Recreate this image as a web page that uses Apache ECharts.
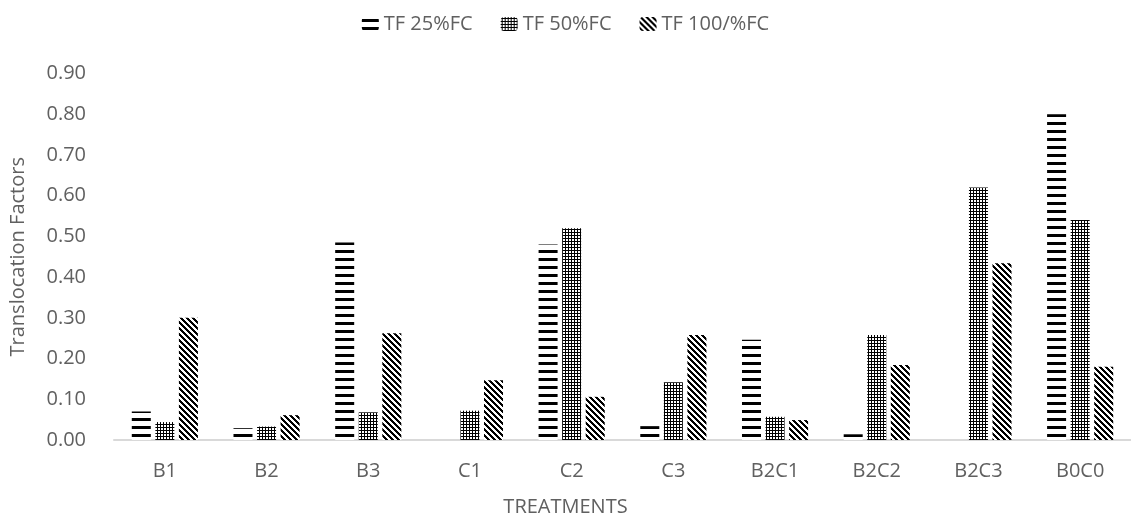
<!DOCTYPE html>
<html>
<head>
<meta charset="utf-8">
<script src="https://cdn.jsdelivr.net/npm/echarts@6/dist/echarts.min.js"></script>
<style>
html,body{margin:0;padding:0;background:#fff;}
#chart{width:1131px;height:518px;}
</style>
</head>
<body>
<div id="chart"></div>
<script>
// ---- data ----
var categories = ['B1','B2','B3','C1','C2','C3','B2C1','B2C2','B2C3','B0C0'];
var seriesNames = ['TF 25%FC','TF 50%FC','TF 100/%FC'];
var tf25  = [0.07, 0.029, 0.485, 0.00, 0.48, 0.034, 0.246, 0.014, 0.00, 0.80];
var tf50  = [0.044, 0.033, 0.068, 0.072, 0.52, 0.142, 0.057, 0.258, 0.62, 0.54];
var tf100 = [0.30, 0.061, 0.262, 0.147, 0.106, 0.258, 0.049, 0.184, 0.434, 0.18];
var yTicks = { min: 0, max: 0.9, interval: 0.1 };

// ---- patterns (styles) ----
function makeTile(w, h, fn) {
  var c = document.createElement('canvas');
  c.width = w; c.height = h;
  var ctx = c.getContext('2d');
  ctx.fillStyle = '#ffffff';
  ctx.fillRect(0, 0, w, h);
  ctx.fillStyle = '#000000';
  for (var y = 0; y < h; y++) {
    for (var x = 0; x < w; x++) {
      if (fn(x, y)) ctx.fillRect(x, y, 1, 1);
    }
  }
  return c;
}
var hStripe = makeTile(8, 8, function (x, y) { return y >= 2 && y <= 4; });
var crossMap = [
  '.X.',
  'XXX',
  '.X.'
];
var crossTile = makeTile(3, 3, function (x, y) { return crossMap[y][x] === 'X'; });
var diagTile = makeTile(6, 6, function (x, y) { return (((x - y) % 6) + 6) % 6 < 3; });

var patterns = [hStripe, crossTile, diagTile];
var dataSets = [tf25, tf50, tf100];

var textColor = '#606060';
var fontFam = '"Open Sans", "Noto Sans", sans-serif';

var chart = echarts.init(document.getElementById('chart'), null, { renderer: 'canvas' });
var series = seriesNames.map(function (name, i) {
  return {
    name: name,
    type: 'bar',
    data: dataSets[i],
    barWidth: 19,
    barGap: '24%',
    itemStyle: { color: { image: patterns[i], repeat: 'repeat' } },
    emphasis: { disabled: true },
    animation: false
  };
});

chart.setOption({
  animation: false,
  backgroundColor: '#ffffff',
  textStyle: { fontFamily: fontFam },
  legend: {
    data: seriesNames,
    top: 9,
    left: 'center',
    itemWidth: 17,
    itemHeight: 14,
    itemGap: 28,
    textStyle: { color: textColor, fontSize: 20, fontFamily: fontFam }
  },
  grid: { left: 109, right: -12, top: 73.5, bottom: 78, containLabel: false },
  xAxis: {
    type: 'category',
    data: categories,
    axisLine: { show: true, lineStyle: { color: '#d9d9d9', width: 2 } },
    axisTick: { show: false },
    axisLabel: { color: textColor, fontSize: 20, margin: 21, fontFamily: fontFam },
    splitLine: { show: false }
  },
  yAxis: {
    type: 'value',
    min: yTicks.min,
    max: yTicks.max,
    interval: yTicks.interval,
    name: 'Translocation Factors',
    nameLocation: 'middle',
    nameGap: 86,
    nameTextStyle: { color: textColor, fontSize: 20, fontFamily: fontFam },
    axisLine: { show: false },
    axisTick: { show: false },
    splitLine: { show: false },
    axisLabel: {
      color: textColor, fontSize: 20, margin: 28, fontFamily: fontFam,
      formatter: function (v) { return v.toFixed(2); }
    }
  },
  graphic: [{
    type: 'text',
    left: 'center',
    top: 497,
    style: { text: 'TREATMENTS', fill: textColor, fontSize: 20, fontFamily: fontFam }
  }],
  series: series
});
</script>
</body>
</html>
